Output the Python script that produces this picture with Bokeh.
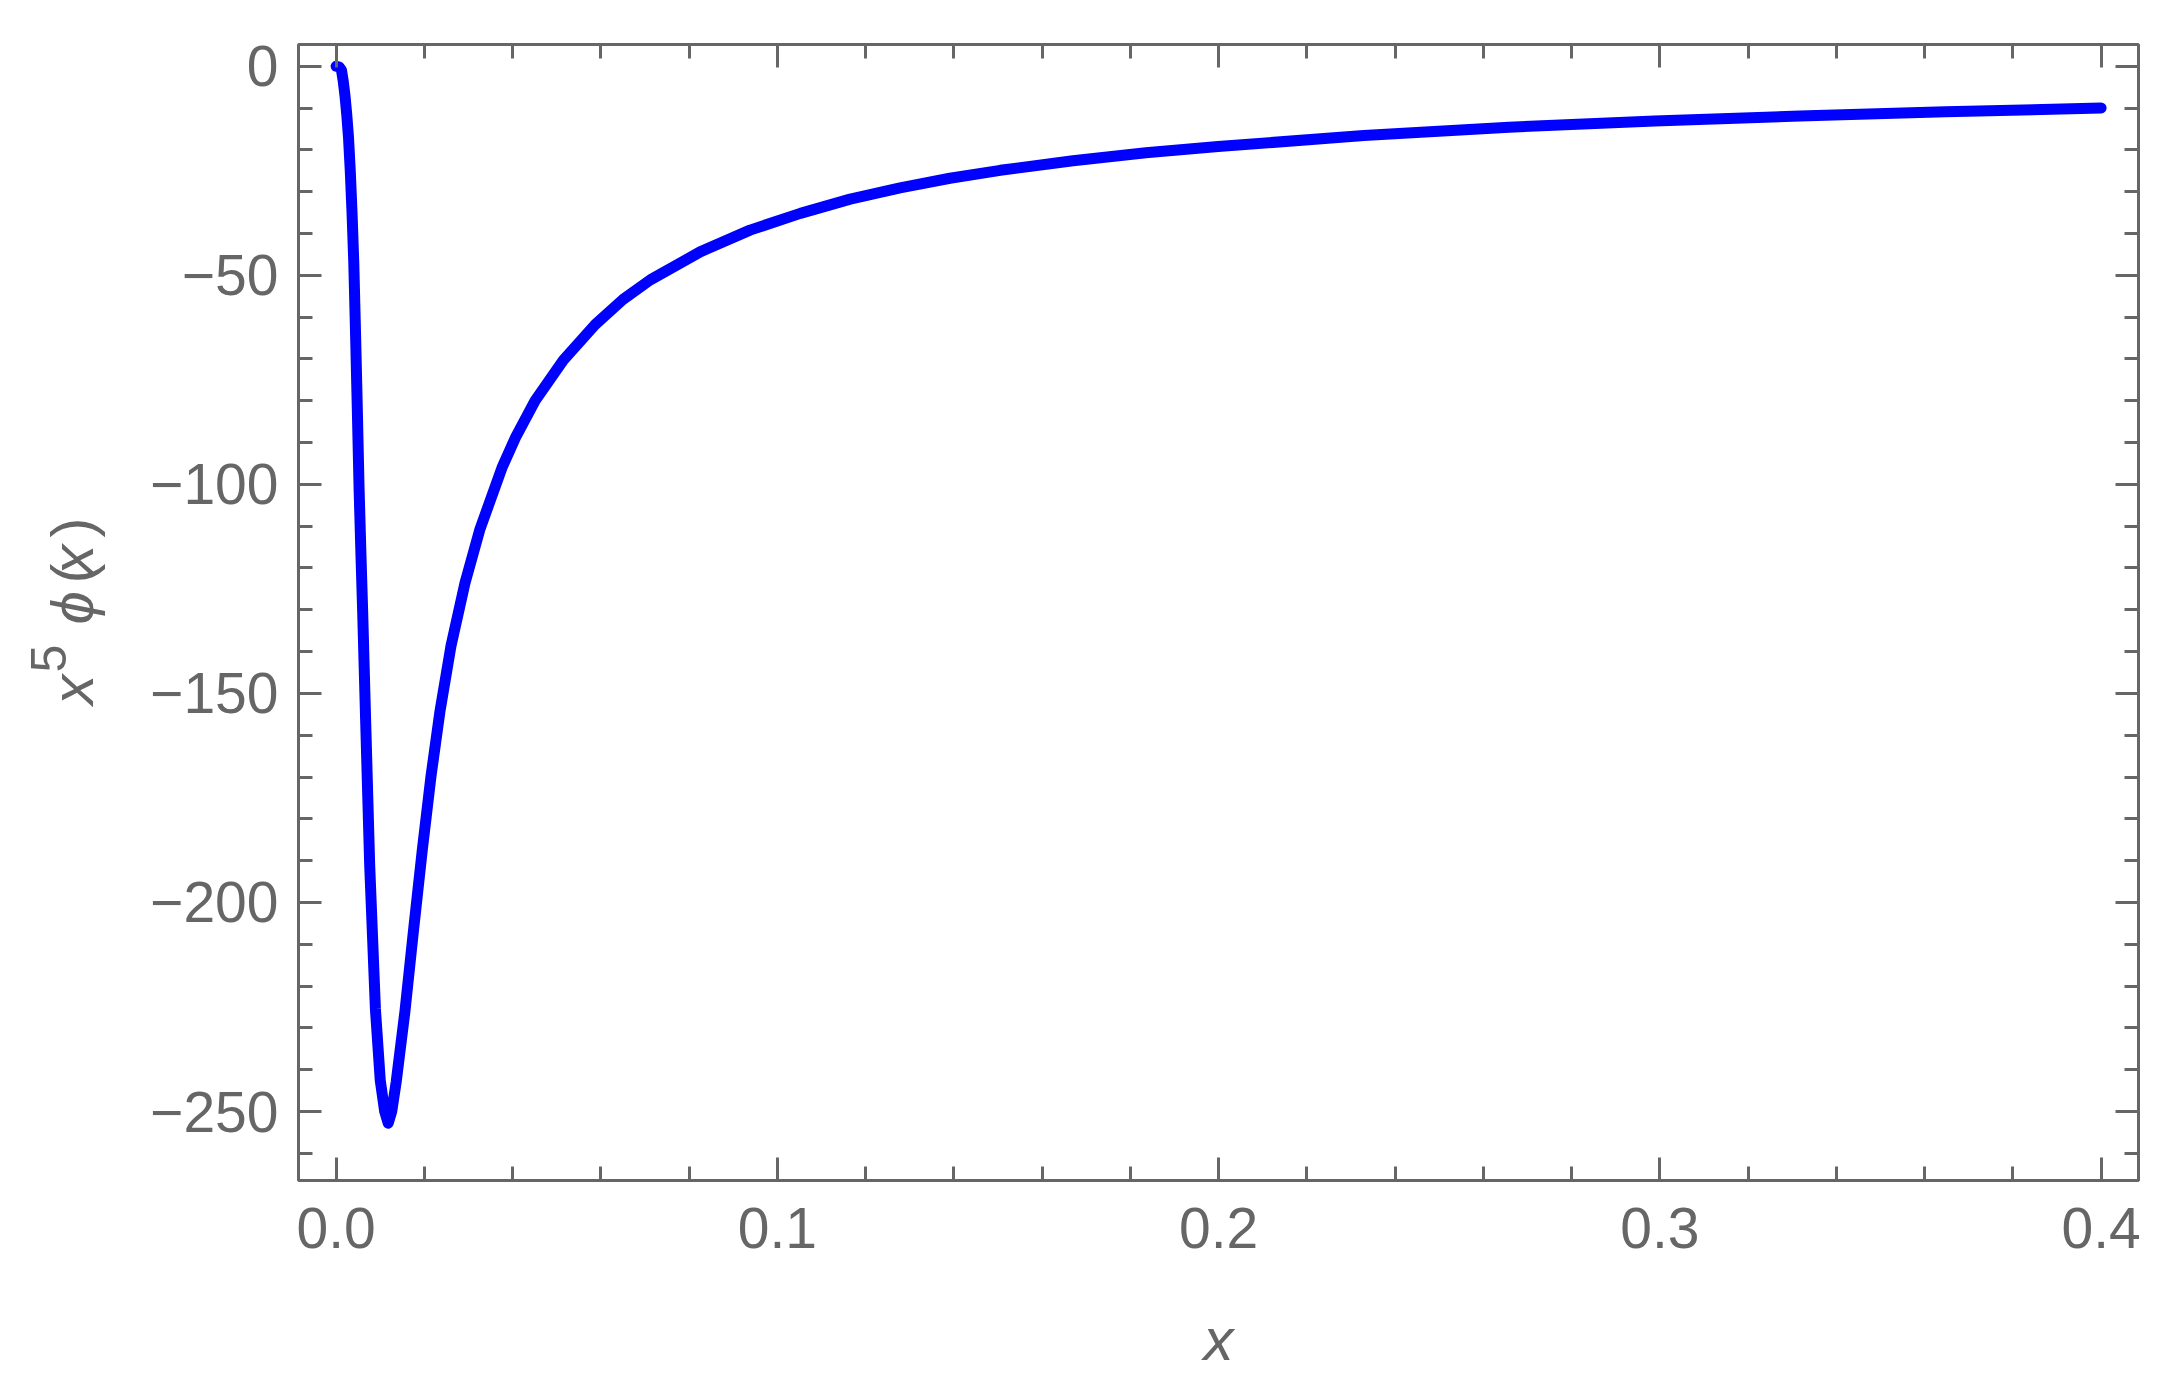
import math
from bokeh.plotting import figure
from bokeh.models import Range1d, FixedTicker, LinearAxis
from bokeh.layouts import row
from bokeh.core.properties import value
from bokeh.embed import file_html
from bokeh.resources import INLINE

# ---- data ----
x_vals = [0.0000, 0.0007, 0.0012, 0.0016, 0.0020, 0.0024, 0.0028, 0.0032, 0.0036,
          0.0040, 0.0044, 0.0048, 0.0052, 0.0056, 0.0060, 0.0067, 0.0076, 0.0089,
          0.0100, 0.0110, 0.0118, 0.0126, 0.0136, 0.0156, 0.0175, 0.0195, 0.0215,
          0.0235, 0.0260, 0.0292, 0.0326, 0.0376, 0.0406, 0.0451, 0.0515, 0.0587,
          0.0650, 0.0712, 0.0825, 0.0938, 0.1052, 0.1165, 0.1278, 0.1391, 0.1505,
          0.1670, 0.1835, 0.1999, 0.2329, 0.2658, 0.2988, 0.3317, 0.3647, 0.4000]
phi_x5 = [0.0, -0.2, -0.9, -3.5, -7.0, -11.5, -17.0, -25.0, -35.0,
          -47.0, -64.0, -82.0, -101.0, -116.0, -130.0, -157.0, -191.0, -225.5,
          -242.6, -250.0, -252.8, -250.0, -243.0, -226.0, -207.0, -187.7, -169.8,
          -154.5, -138.8, -123.6, -110.7, -96.0, -88.9, -80.0, -70.3, -61.8,
          -55.8, -51.1, -44.4, -39.2, -35.2, -31.8, -29.1, -26.8, -24.9,
          -22.6, -20.7, -19.2, -16.6, -14.6, -13.1, -11.9, -10.9, -10.0]

x_ticks = [0.0, 0.1, 0.2, 0.3, 0.4]
x_tick_labels = ["0.0", "0.1", "0.2", "0.3", "0.4"]
x_minor_ticks = [round(0.02 * i, 2) for i in range(0, 21)]
y_ticks = [0, -50, -100, -150, -200, -250]
y_tick_labels = ["0", "\u221250", "\u2212100", "\u2212150", "\u2212200", "\u2212250"]
y_minor_ticks = [-10 * i for i in range(0, 27)]

x_title = "x"
# y title: x^5 phi(x)
y_title_parts = ["x", "5", "\u03d5", "(", "x", ")"]
y_title_italic = [True, False, True, False, True, False]
y_title_sizes = ["60px", "50px", "60px", "60px", "60px", "60px"]
y_title_pos = [-152.7, -145.0, -133.5, -123.7, -121.6, -112.7]
y_title_mid = [71.9, 47.7, 71.9, 71.9, 71.9, 71.9]

GRAY = "#666666"
FONT = "Liberation Sans"

H = 1390
TOP = 44
BOTTOM = 210
LEFT_W = 110
yr = Range1d(-266.5, 5.19)

# narrow figure that carries the rotated y-axis title
pl = figure(width=LEFT_W, height=H, output_backend="svg", toolbar_location=None,
            x_range=Range1d(0, LEFT_W), y_range=yr,
            x_axis_location=None, y_axis_location=None,
            min_border_left=0, min_border_right=0, min_border_top=TOP,
            min_border_bottom=BOTTOM)
pl.grid.visible = False
pl.outline_line_color = None
for part, yp, xb, it, sz in zip(y_title_parts, y_title_pos, y_title_mid,
                                y_title_italic, y_title_sizes):
    pl.text(x=[xb], y=[yp], text=[part], angle=math.pi / 2,
            text_font=value(FONT), text_font_size=sz,
            text_font_style="italic" if it else "normal",
            text_color=GRAY, text_align="left", text_baseline="middle")

p = figure(width=2160 - LEFT_W, height=H, output_backend="svg",
           toolbar_location=None,
           x_range=Range1d(-0.00853, 0.40847), y_range=yr,
           x_axis_location=None, y_axis_location=None,
           min_border_left=298 - LEFT_W, min_border_right=22, min_border_top=TOP,
           min_border_bottom=BOTTOM)
p.background_fill_color = "white"
p.border_fill_color = "white"
p.grid.visible = False
p.outline_line_color = GRAY
p.outline_line_width = 3


def make_axis(ticks, minor, labels, show_labels, standoff=20):
    ax = LinearAxis(ticker=FixedTicker(ticks=ticks, minor_ticks=minor))
    ax.axis_line_color = None
    ax.major_tick_in = 23
    ax.major_tick_out = 0
    ax.minor_tick_in = 14
    ax.minor_tick_out = 0
    ax.major_tick_line_color = GRAY
    ax.minor_tick_line_color = GRAY
    ax.major_tick_line_width = 3
    ax.minor_tick_line_width = 3
    if show_labels:
        ax.major_label_overrides = {t: l for t, l in zip(ticks, labels)}
        ax.major_label_text_font = FONT
        ax.major_label_text_font_size = "57px"
        ax.major_label_text_color = GRAY
        ax.major_label_standoff = standoff
    else:
        ax.major_label_text_font_size = "0px"
        ax.major_label_text_color = None
        ax.major_label_standoff = 0
    return ax


xa = make_axis(x_ticks, x_minor_ticks, x_tick_labels, True, standoff=27)
xa.axis_label = x_title
xa.axis_label_text_font = FONT
xa.axis_label_text_font_size = "60px"
xa.axis_label_text_font_style = "italic"
xa.axis_label_text_color = GRAY
xa.axis_label_standoff = 55
p.add_layout(xa, "below")
p.add_layout(make_axis(x_ticks, x_minor_ticks, x_tick_labels, False), "above")
p.add_layout(make_axis(y_ticks, y_minor_ticks, y_tick_labels, True, standoff=20), "left")
p.add_layout(make_axis(y_ticks, y_minor_ticks, y_tick_labels, False), "right")

p.line(x_vals, phi_x5, line_color="#0000FF", line_width=11, line_join="round",
       line_cap="round")

layout = row(pl, p, spacing=0)
open("out.html", "w").write(file_html(layout, INLINE))
